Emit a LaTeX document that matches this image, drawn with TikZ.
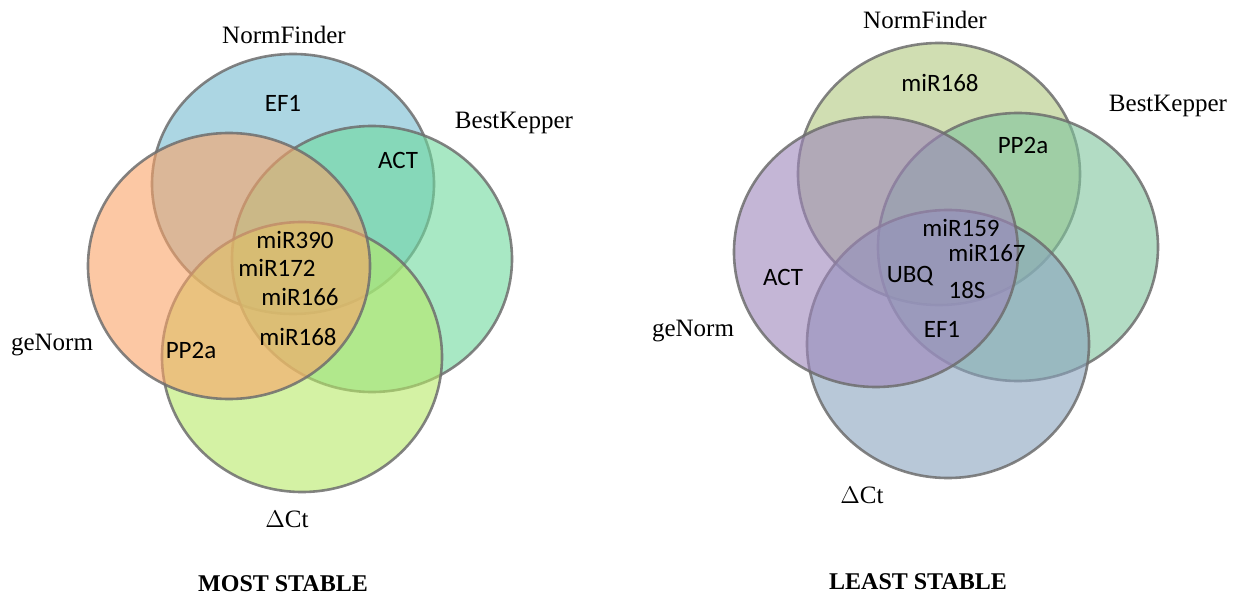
\documentclass[tikz,border=0pt]{standalone}
\usepackage{fontspec}
\setmainfont{Liberation Serif}
\newfontfamily\genefont{Carlito}
\usepackage{tikz}
\definecolor{nfblue}{HTML}{75BBD0}
\definecolor{bkgreen}{HTML}{6ED99D}
\definecolor{gnorange}{HTML}{FAA367}
\definecolor{ctlime}{HTML}{B7E967}
\definecolor{nfolive}{HTML}{B1C87F}
\definecolor{bkmint}{HTML}{7FC59D}
\definecolor{gnpurple}{HTML}{9D85BB}
\definecolor{ctslate}{HTML}{89A3BE}
\definecolor{rimgray}{HTML}{6E6E6E}

\begin{document}
\begin{tikzpicture}[x=0.5pt, y=-0.5pt,
  setring/.style={draw=rimgray, line width=1.3pt, fill opacity=0.6, draw opacity=0.85},
  setlab/.style={font=\fontsize{12.5}{14}\selectfont, inner sep=0pt},
  genelab/.style={font=\genefont\fontsize{12.5}{14}\selectfont, inner sep=0pt},
  paneltitle/.style={font=\bfseries\fontsize{12}{14}\selectfont, inner sep=0pt}]
  \useasboundingbox (0,0) rectangle (1244,599);

  % most stable
  \filldraw[setring, fill=nfblue] (293,184) ellipse [x radius=141, y radius=130];
  \filldraw[setring, fill=bkgreen] (372,259) ellipse [x radius=140, y radius=133];
  \filldraw[setring, fill=ctlime] (302,357) ellipse [x radius=140, y radius=135];
  \filldraw[setring, fill=gnorange] (229,266) ellipse [x radius=141, y radius=133];

  \node[setlab] (nfL) at (284,35) {NormFinder};
  \node[setlab] (bkL) at (514,123) {BestKepper};
  \node[setlab] (gnL) at (52,345) {geNorm};
  \node[setlab] (ctL) at (287,519) {$\Delta$Ct};

  \node[genelab] (ef1L) at (283,103) {EF1};
  \node[genelab] (actL) at (398,160) {ACT};
  \node[genelab] (m390L) at (295,240) {miR390};
  \node[genelab] (m172L) at (277,268) {miR172};
  \node[genelab] (m166L) at (300,297) {miR166};
  \node[genelab] (m168L) at (298,337) {miR168};
  \node[genelab] (pp2aL) at (191,350) {PP2a};

  \node[paneltitle] (mostL) at (283,584) {MOST STABLE};

  % least stable
  \filldraw[setring, fill=nfolive] (939,174) ellipse [x radius=141, y radius=131];
  \filldraw[setring, fill=bkmint] (1018,247) ellipse [x radius=140, y radius=134];
  \filldraw[setring, fill=ctslate] (948,344) ellipse [x radius=141, y radius=134];
  \filldraw[setring, fill=gnpurple] (876,252) ellipse [x radius=142, y radius=135];

  \node[setlab] (nfR) at (925,20) {NormFinder};
  \node[setlab] (bkR) at (1168,106) {BestKepper};
  \node[setlab] (gnR) at (693,331) {geNorm};
  \node[setlab] (ctR) at (862,495) {$\Delta$Ct};

  \node[genelab] (m168R) at (940,83) {miR168};
  \node[genelab] (pp2aR) at (1023,145) {PP2a};
  \node[genelab] (m159R) at (961,228) {miR159};
  \node[genelab] (m167R) at (987,253) {miR167};
  \node[genelab] (ubqR) at (910,276) {UBQ};
  \node[genelab] (s18R) at (967,290) {18S};
  \node[genelab] (ef1R) at (942,329) {EF1};
  \node[genelab] (actR) at (783,277) {ACT};

  \node[paneltitle] (leastL) at (918,582) {LEAST STABLE};
\end{tikzpicture}
\end{document}
